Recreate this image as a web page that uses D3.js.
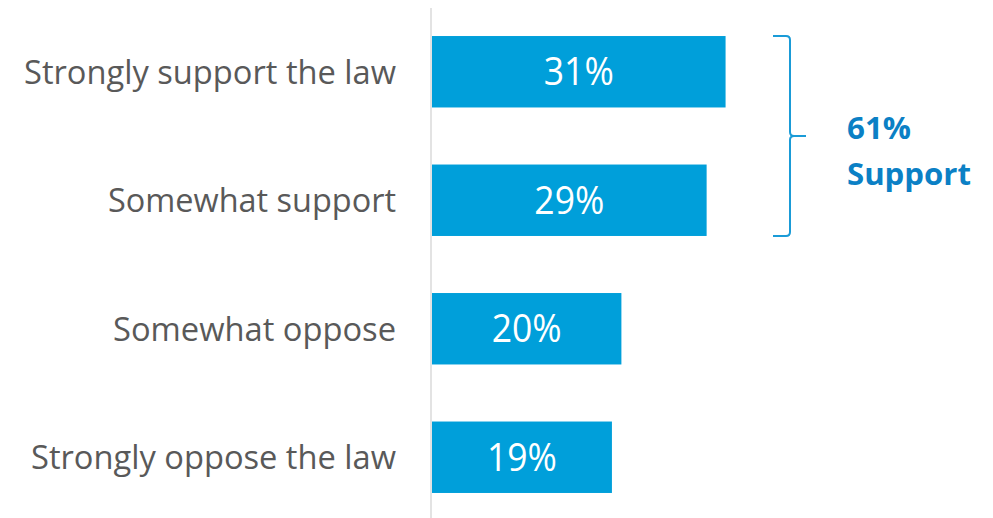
<!DOCTYPE html>
<html><head><meta charset="utf-8">
<script src="https://cdn.jsdelivr.net/npm/d3@7"></script>
<style>body{margin:0;background:#fff}svg{display:block}</style>
</head><body>
<svg id="c" width="993" height="518"></svg>
<script>
const categories = ["Strongly support the law","Somewhat support","Somewhat oppose","Strongly oppose the law"];
const values = [31, 29, 20, 19];
const valueLabels = ["31%","29%","20%","19%"];
const bracketLines = ["61%","Support"];

(function(){
const svg = d3.select("#c");
const font = "'Open Sans', 'Noto Sans', sans-serif";
const x = d3.scaleLinear().domain([0,100]).range([432, 432+947]);
const y = d3.scaleBand().domain(categories).range([7.5, 521.5]).paddingInner(0.444).paddingOuter(0.222);

svg.append("line").attr("x1",431).attr("x2",431).attr("y1",8).attr("y2",518)
  .attr("stroke","#e3e3e3").attr("stroke-width",2);

svg.selectAll("rect.bar").data(values).join("rect").attr("class","bar")
  .attr("x", x(0)).attr("y",(d,i)=>y(categories[i]))
  .attr("width", d=>x(d)-x(0)).attr("height", y.bandwidth()).attr("fill","#009fda");

svg.selectAll("text.val").data(values).join("text").attr("class","val")
  .attr("x", d=>(x(0)+x(d))/2).attr("y",(d,i)=>y(categories[i])+y.bandwidth()/2)
  .attr("dy","0.36em").attr("text-anchor","middle").attr("fill","#fff")
  .attr("font-family",font).attr("font-size",38)
  .attr("textLength",70).attr("lengthAdjust","spacingAndGlyphs")
  .text((d,i)=>valueLabels[i]);

const targetW = [372,288,283,365];
svg.selectAll("text.cat").data(categories).join("text").attr("class","cat")
  .attr("x",396).attr("y",d=>y(d)+y.bandwidth()/2).attr("dy","0.36em")
  .attr("text-anchor","end").attr("fill","#595959")
  .attr("font-family",font).attr("font-size",33)
  .attr("textLength",(d,i)=>targetW[i]).attr("lengthAdjust","spacingAndGlyphs")
  .text(d=>d);

const yTop = y(categories[0]), yBot = y(categories[1])+y.bandwidth();
const mid = (yTop+yBot)/2, xl = 773, xv = 790, xt = 806;
const r = 4;
const p = d3.path();
p.moveTo(xl, yTop); p.lineTo(xv-r, yTop); p.quadraticCurveTo(xv, yTop, xv, yTop+r);
p.lineTo(xv, mid-r); p.quadraticCurveTo(xv, mid, xv+r, mid); p.lineTo(xt, mid);
p.moveTo(xv+r, mid); p.quadraticCurveTo(xv, mid, xv, mid+r);
p.lineTo(xv, yBot-r); p.quadraticCurveTo(xv, yBot, xv-r, yBot); p.lineTo(xl, yBot);
svg.append("path").attr("d",p.toString()).attr("fill","none").attr("stroke","#1a9bd7").attr("stroke-width",2);

const bw = [64,124];
svg.selectAll("text.br").data(bracketLines).join("text").attr("class","br")
  .attr("x",847).attr("y",(d,i)=>139+i*46).attr("fill","#0b80c5")
  .attr("font-family",font).attr("font-weight","bold").attr("font-size",30)
  .attr("textLength",(d,i)=>bw[i]).attr("lengthAdjust","spacingAndGlyphs")
  .text(d=>d);
})();
</script>
</body></html>
